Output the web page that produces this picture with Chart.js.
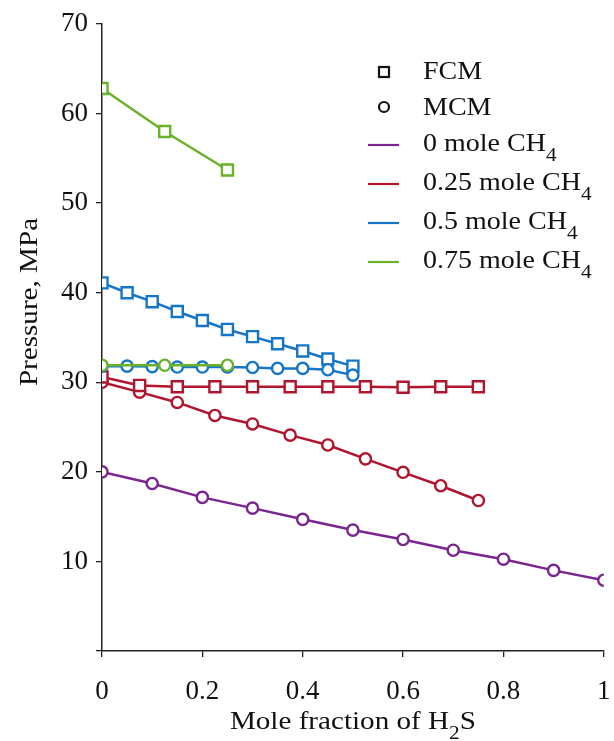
<!DOCTYPE html>
<html>
<head>
<meta charset="utf-8">
<title>Pressure vs mole fraction of H2S</title>
<script src="https://cdn.jsdelivr.net/npm/chart.js@4/dist/chart.umd.min.js"></script>
<style>
  html, body { margin: 0; padding: 0; background: #fff; }
  #wrap { position: relative; width: 614px; height: 741px; }
</style>
</head>
<body>
<div id="wrap"><canvas id="c" width="614" height="741"></canvas></div>
<script>
// Mole fraction of H2S for each series
const xCH4_0    = [0, 0.1, 0.2, 0.3, 0.4, 0.5, 0.6, 0.7, 0.8, 0.9, 1.0];
const xCH4_025  = [0, 0.075, 0.15, 0.225, 0.3, 0.375, 0.45, 0.525, 0.6, 0.675, 0.75];
const xCH4_05   = [0, 0.05, 0.1, 0.15, 0.2, 0.25, 0.3, 0.35, 0.4, 0.45, 0.5];
const xCH4_075  = [0, 0.125, 0.25];

// Pressure (MPa)
const mcmCH4_0   = [20.0, 18.7, 17.15, 15.95, 14.7, 13.5, 12.45, 11.25, 10.25, 9.0, 7.9];
const fcmCH4_025 = [30.6, 29.65, 29.5, 29.5, 29.5, 29.5, 29.5, 29.5, 29.45, 29.5, 29.5];
const mcmCH4_025 = [30.0, 28.9, 27.75, 26.3, 25.35, 24.1, 23.0, 21.45, 19.95, 18.45, 16.8];
const fcmCH4_05  = [41.1, 40.0, 39.0, 37.9, 36.9, 35.9, 35.1, 34.3, 33.5, 32.6, 31.8];
const mcmCH4_05  = [31.8, 31.8, 31.75, 31.7, 31.7, 31.7, 31.65, 31.55, 31.55, 31.4, 30.8];
const fcmCH4_075 = [62.8, 58.0, 53.7];
const mcmCH4_075 = [31.9, 31.9, 31.9];

const seriesNames = ['0 mole CH', '0.25 mole CH', '0.5 mole CH', '0.75 mole CH'];
const methodNames = ['FCM', 'MCM'];
const yTicks = [10, 20, 30, 40, 50, 60, 70];
const xTicks = [0, 0.2, 0.4, 0.6, 0.8, 1];

const COLORS = ['#7A2590', '#B0152E', '#1576C8', '#6AB22A'];
const FONT = "'Liberation Serif', 'Times New Roman', serif";
const TEXT_STRETCH = 1.12;   // serif text is drawn slightly wide

function pts(xs, ys) { return xs.map((x, i) => ({ x: x, y: ys[i] })); }

function series(xs, ys, color, method) {
  const square = method === 'FCM';
  return {
    data: pts(xs, ys),
    borderColor: color,
    backgroundColor: '#ffffff',
    pointBackgroundColor: '#ffffff',
    pointBorderColor: color,
    pointBorderWidth: 2.4,
    pointStyle: square ? 'rect' : 'circle',
    pointRadius: square ? 7.8 : 5.6,
    borderWidth: 2.5,
    tension: 0,
    fill: false
  };
}

// Index 0 is painted last (on top)
const datasets = [
  series(xCH4_075, mcmCH4_075, COLORS[3], 'MCM'),
  series(xCH4_075, fcmCH4_075, COLORS[3], 'FCM'),
  series(xCH4_05,  mcmCH4_05,  COLORS[2], 'MCM'),
  series(xCH4_05,  fcmCH4_05,  COLORS[2], 'FCM'),
  series(xCH4_025, fcmCH4_025, COLORS[1], 'FCM'),
  series(xCH4_025, mcmCH4_025, COLORS[1], 'MCM'),
  series(xCH4_0,   mcmCH4_0,   COLORS[0], 'MCM')
];

// Writes a run of text with horizontal stretch, returns its advance width
function wideText(ctx, str, x, y, size) {
  ctx.save();
  ctx.font = size + 'px ' + FONT;
  ctx.translate(x, y);
  ctx.scale(TEXT_STRETCH, 1);
  ctx.fillText(str, 0, 0);
  const w = ctx.measureText(str).width * TEXT_STRETCH;
  ctx.restore();
  return w;
}
function wideWidth(ctx, str, size) {
  ctx.save();
  ctx.font = size + 'px ' + FONT;
  const w = ctx.measureText(str).width * TEXT_STRETCH;
  ctx.restore();
  return w;
}

// Legend and axis titles with subscripts
const annotate = {
  id: 'annotate',
  afterDraw(chart) {
    const ctx = chart.ctx;
    const area = chart.chartArea;
    ctx.save();
    ctx.fillStyle = '#111';
    ctx.textBaseline = 'middle';
    ctx.textAlign = 'left';

    // Legend
    const mx = 384, tx = 423;
    ctx.strokeStyle = '#111';
    ctx.lineWidth = 2.2;
    ctx.strokeRect(mx - 5, 72 - 5, 10, 10);
    wideText(ctx, methodNames[0], tx, 72, 25);
    ctx.beginPath();
    ctx.arc(mx, 107, 5, 0, Math.PI * 2);
    ctx.stroke();
    wideText(ctx, methodNames[1], tx, 108, 25);

    const rows = [144, 183, 222, 261];
    rows.forEach((y, i) => {
      ctx.strokeStyle = COLORS[i];
      ctx.lineWidth = 2.2;
      ctx.beginPath();
      ctx.moveTo(368, y + 1);
      ctx.lineTo(399, y + 1);
      ctx.stroke();
      const w = wideText(ctx, seriesNames[i], tx, y, 25);
      wideText(ctx, '4', tx + w, y + 12, 19);
    });

    // X axis title: Mole fraction of H2S
    const xt1 = 'Mole fraction of H', xt2 = '2', xt3 = 'S';
    const w1 = wideWidth(ctx, xt1, 26);
    const w2 = wideWidth(ctx, xt2, 19);
    const w3 = wideWidth(ctx, xt3, 26);
    const cx = (area.left + area.right) / 2;
    const sx = cx - (w1 + w2 + w3) / 2;
    const ty = 722;
    wideText(ctx, xt1, sx, ty, 26);
    wideText(ctx, xt2, sx + w1, ty + 12, 19);
    wideText(ctx, xt3, sx + w1 + w2, ty, 26);

    // Y axis title
    ctx.translate(30, 302);
    ctx.rotate(-Math.PI / 2);
    const yt = 'Pressure, MPa';
    wideText(ctx, yt, -wideWidth(ctx, yt, 26) / 2, 0, 26);
    ctx.restore();
  }
};

new Chart(document.getElementById('c'), {
  type: 'line',
  data: { datasets: datasets },
  options: {
    responsive: false,
    animation: false,
    layout: { padding: { left: 0, right: 6, top: 24, bottom: 0 } },
    plugins: { legend: { display: false }, tooltip: { enabled: false } },
    scales: {
      x: {
        type: 'linear',
        min: 0, max: 1,
        afterBuildTicks(s) { s.ticks = xTicks.map(v => ({ value: v })); },
        ticks: {
          color: '#111',
          font: { family: FONT, size: 27 },
          padding: 19,
          maxRotation: 0,
          callback: v => String(v)
        },
        grid: { drawOnChartArea: false, drawTicks: true, tickLength: 6, color: '#222', lineWidth: 1.3 },
        border: { display: true, color: '#222', width: 1.5 },
        afterFit(s) { s.height = 90; s.paddingRight = 0; s.paddingLeft = 0; }
      },
      y: {
        type: 'linear',
        min: 0, max: 70,
        afterBuildTicks(s) { s.ticks = [0].concat(yTicks).map(v => ({ value: v })); },
        ticks: {
          color: '#111',
          font: { family: FONT, size: 27 },
          padding: 8,
          callback: v => (v === 0 ? '' : String(v))
        },
        grid: { drawOnChartArea: false, drawTicks: true, tickLength: 6, color: '#222', lineWidth: 1.3 },
        border: { display: true, color: '#222', width: 1.5 },
        afterFit(s) { s.width = 102; s.paddingTop = 0; s.paddingBottom = 0; }
      }
    }
  },
  plugins: [annotate]
});
</script>
</body>
</html>
